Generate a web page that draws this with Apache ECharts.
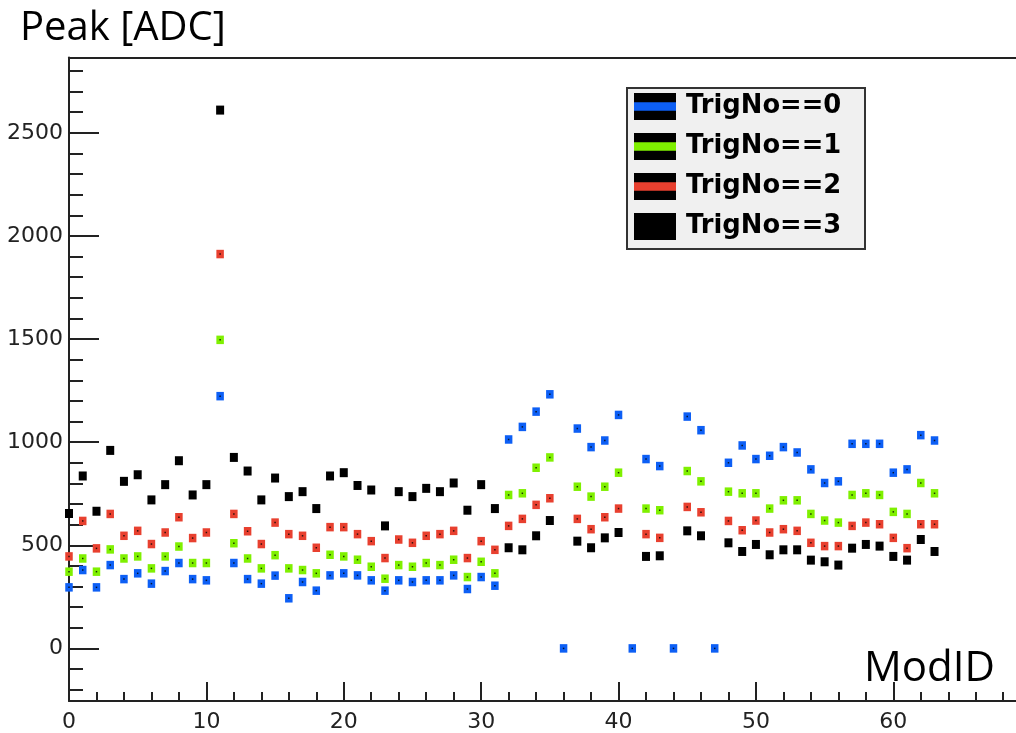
<!DOCTYPE html>
<html>
<head>
<meta charset="utf-8">
<title>Peak [ADC] vs ModID</title>
<script src="https://cdn.jsdelivr.net/npm/echarts@6/dist/echarts.min.js"></script>
<style>
  html, body { margin: 0; padding: 0; background: #fff; }
  #chart { width: 1016px; height: 733px; }
</style>
</head>
<body>
<div id="chart"></div>
<script>
// Module IDs 0..63
const modId = Array.from({ length: 64 }, (_, i) => i);

// Peak ADC per module for each trigger number (null = no entry)
const trig0 = [296, 380, 296, 404, 336, 364, 314, 375, 414, 336, 330, 1223, 414, 336, 314, 353,
  243, 322, 280, 354, 364, 354, 330, 280, 330, 322, 330, 330, 354, 288, 346, 304,
  1013, 1074, 1148, 1232, 0, 1066, 976, 1008, 1132, 0, 918, 884, 0, 1124, 1058, 0,
  900, 984, 918, 934, 976, 950, 868, 802, 810, 992, 992, 992, 852, 868, 1034, 1008];
const trig1 = [372, 436, 372, 480, 436, 446, 388, 446, 494, 414, 414, 1496, 510, 436, 388, 452,
  388, 380, 364, 454, 446, 430, 396, 338, 404, 396, 414, 404, 430, 346, 420, 364,
  744, 752, 876, 926, null, 784, 736, 784, 852, null, 678, 670, null, 860, 810, null,
  760, 752, 752, 678, 718, 718, 652, 620, 610, 744, 752, 744, 662, 652, 802, 752];
const trig2 = [446, 618, 485, 652, 546, 570, 506, 562, 636, 535, 562, 1912, 652, 568, 506, 610,
  554, 546, 488, 588, 588, 554, 520, 438, 528, 512, 546, 554, 570, 438, 520, 478,
  594, 628, 696, 728, null, 628, 578, 636, 678, null, 554, 536, null, 686, 660, null,
  618, 573, 620, 562, 578, 570, 512, 496, 496, 594, 610, 602, 536, 486, 602, 602];
const trig3 = [654, 836, 665, 960, 810, 842, 720, 794, 910, 744, 794, 2610, 926, 860, 720, 826,
  736, 760, 678, 836, 852, 790, 768, 594, 760, 736, 776, 760, 802, 670, 794, 678,
  488, 478, 546, 620, null, 520, 488, 536, 562, null, 446, 449, null, 570, 546, null,
  512, 470, 504, 454, 478, 478, 428, 420, 404, 486, 504, 496, 446, 428, 528, 470];

const seriesNames = ['TrigNo==0', 'TrigNo==1', 'TrigNo==2', 'TrigNo==3'];
const seriesValues = [trig0, trig1, trig2, trig3];
const seriesColors = ['#0d5ff5', '#7ff000', '#e8402f', '#000000'];

// Axis ranges and tick positions
const xRange = [0, 68.93];
const yRange = [-255, 2865];
const xMajorTicks = [0, 10, 20, 30, 40, 50, 60];
const xMinorTicks = [];
for (let v = 2; v <= 68; v += 2) if (v % 10 !== 0) xMinorTicks.push(v);
const yMajorTicks = [0, 500, 1000, 1500, 2000, 2500];
const yMinorTicks = [];
for (let v = -200; v <= 2800; v += 100) if (v % 500 !== 0) yMinorTicks.push(v);

function pairs(values) {
  const out = [];
  values.forEach((v, i) => { if (v !== null) out.push([modId[i], v]); });
  return out;
}

const chart = echarts.init(document.getElementById('chart'), null, { renderer: 'canvas' });

const frameColor = '#222';
const tickLine = { color: frameColor, width: 2 };
const tickFont = { fontFamily: 'DejaVu Sans', fontSize: 22, color: '#222', formatter: (v) => String(v) };

// Legend icon: colour band across the middle of a 42x27 box
const bandIcon = 'path://M0,0h0.05v0.05h-0.05z M0,9.3h42v8.4h-42z M41.95,26.95h0.05v0.05h-0.05z';

const series = [];
seriesValues.forEach((vals, k) => {
  series.push({
    name: seriesNames[k],
    type: 'scatter',
    data: pairs(vals),
    symbol: 'rect',
    symbolSize: k === 3 ? [8, 9] : [7.5, 8.5],
    itemStyle: { color: seriesColors[k], opacity: 1 },
    z: 2
  });
});
// centre dot of the coloured markers
seriesValues.slice(0, 3).forEach((vals) => {
  series.push({
    type: 'scatter',
    data: pairs(vals),
    symbol: 'rect',
    symbolSize: 1.5,
    itemStyle: { color: '#000' },
    silent: true,
    z: 3
  });
});

const legendBoxes = seriesNames.map((_, i) => ({
  type: 'rect',
  shape: { x: 634, y: 93 + 40 * i, width: 42, height: 27 },
  style: { fill: '#000' },
  z: 2
}));

chart.setOption({
  animation: false,
  backgroundColor: '#fff',
  title: [
    {
      text: 'Peak [ADC]', left: 20, top: 9, padding: 0,
      textStyle: { fontFamily: 'Open Sans', fontSize: 40, fontWeight: 'normal', color: '#000' }
    },
    {
      text: 'ModID', left: 864, top: 648, padding: 0,
      textStyle: { fontFamily: 'Open Sans', fontSize: 42, fontWeight: 'normal', color: '#000' }
    }
  ],
  grid: { left: 69, top: 57.5, right: 0, bottom: 30.5, show: false },
  graphic: [
    {
      type: 'rect',
      shape: { x: 627, y: 88, width: 238, height: 161 },
      style: { fill: '#f0f0f0', stroke: '#333', lineWidth: 2 },
      z: 1
    }
  ].concat(legendBoxes),
  legend: {
    data: seriesNames,
    orient: 'vertical',
    left: 634, top: 93, padding: 0,
    itemWidth: 42, itemHeight: 27, itemGap: 13,
    icon: bandIcon,
    selectedMode: false,
    z: 5,
    textStyle: {
      fontFamily: 'DejaVu Sans', fontWeight: 'bold', fontSize: 25.8, color: '#000',
      lineHeight: 27, padding: [0, 0, 0, 5]
    }
  },
  xAxis: [
    {
      type: 'value', min: xRange[0], max: xRange[1], position: 'bottom',
      axisLine: { show: true, onZero: false, lineStyle: tickLine },
      axisTick: { show: true, inside: true, length: 19, customValues: xMajorTicks, lineStyle: tickLine },
      axisLabel: Object.assign({ margin: 10, customValues: xMajorTicks }, tickFont),
      splitLine: { show: false }
    },
    {
      type: 'value', min: xRange[0], max: xRange[1], position: 'bottom',
      axisLine: { show: false, onZero: false },
      axisTick: { show: true, inside: true, length: 9, customValues: xMinorTicks, lineStyle: tickLine },
      axisLabel: { show: false },
      splitLine: { show: false }
    },
    {
      // upper frame edge
      type: 'value', min: xRange[0], max: xRange[1], position: 'top',
      axisLine: { show: true, onZero: false, lineStyle: tickLine },
      axisTick: { show: false },
      axisLabel: { show: false },
      splitLine: { show: false }
    }
  ],
  yAxis: [
    {
      type: 'value', min: yRange[0], max: yRange[1], position: 'left',
      axisLine: { show: true, onZero: false, lineStyle: tickLine },
      axisTick: { show: true, inside: true, length: 30, customValues: yMajorTicks, lineStyle: tickLine },
      axisLabel: Object.assign({ margin: 6, customValues: yMajorTicks }, tickFont),
      splitLine: { show: false }
    },
    {
      type: 'value', min: yRange[0], max: yRange[1], position: 'left',
      axisLine: { show: false, onZero: false },
      axisTick: { show: true, inside: true, length: 14, customValues: yMinorTicks, lineStyle: tickLine },
      axisLabel: { show: false },
      splitLine: { show: false }
    }
  ],
  series: series
});
</script>
</body>
</html>
